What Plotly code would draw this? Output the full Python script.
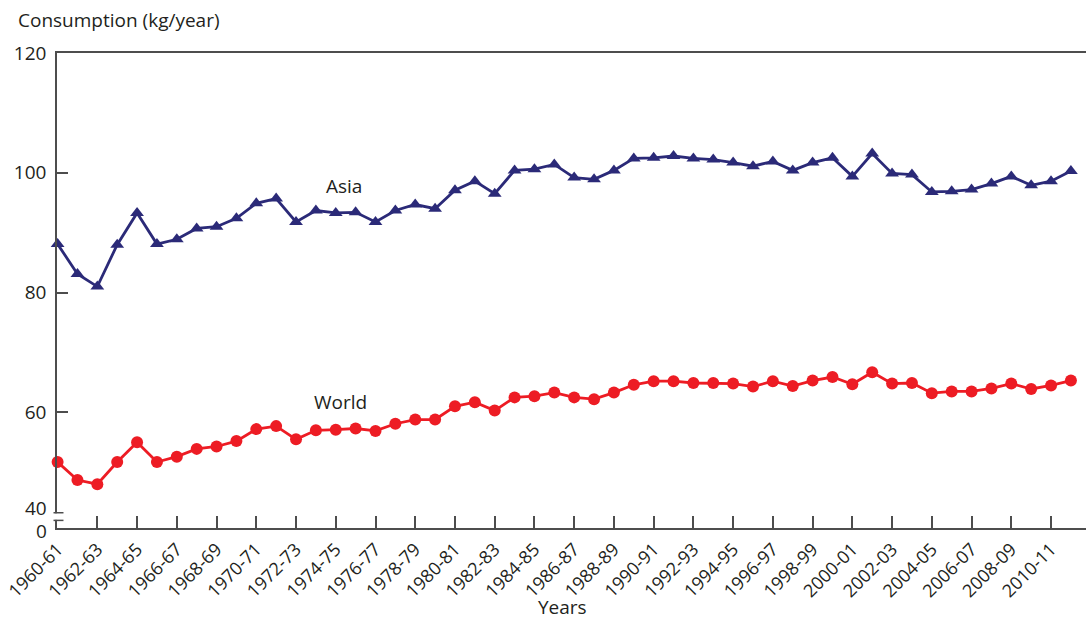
import plotly.graph_objects as go

# ---- data ----
start_years = list(range(1960, 2012))
seasons = [f"{y}-{(y + 1) % 100:02d}" for y in start_years]

asia = [88.1, 83.1, 81.0, 88.0, 93.3, 88.1, 88.9, 90.7, 91.0, 92.4,
        94.9, 95.7, 91.8, 93.7, 93.3, 93.4, 91.8, 93.7, 94.7, 94.0,
        97.1, 98.6, 96.5, 100.4, 100.6, 101.4, 99.2, 98.9, 100.4, 102.4,
        102.5, 102.8, 102.4, 102.2, 101.7, 101.1, 101.9, 100.4, 101.7, 102.5,
        99.4, 103.2, 99.9, 99.7, 96.8, 96.9, 97.2, 98.2, 99.4, 97.9,
        98.6, 100.3]

world = [51.7, 48.7, 48.0, 51.7, 55.0, 51.7, 52.6, 53.9, 54.3, 55.2,
         57.2, 57.7, 55.5, 57.0, 57.1, 57.3, 56.9, 58.1, 58.8, 58.8,
         61.0, 61.7, 60.3, 62.5, 62.7, 63.3, 62.5, 62.2, 63.3, 64.6,
         65.2, 65.2, 64.9, 64.9, 64.8, 64.3, 65.2, 64.4, 65.3, 65.9,
         64.7, 66.7, 64.8, 64.9, 63.2, 63.5, 63.5, 64.0, 64.8, 63.9,
         64.5, 65.3]

x_tick_labels = seasons[::2]
y_tick_vals = [60, 80, 100, 120]

# ---- style ----
FONT = "Open Sans"
TXT = "#231f20"
AX = "#4d4d4d"
NAVY = "#2b2a78"
RED = "#ed1c24"

fig = go.Figure()
fig.add_trace(go.Scatter(
    x=seasons, y=asia, mode="lines+markers", name="Asia",
    line=dict(color=NAVY, width=2.8),
    marker=dict(symbol="triangle-up", size=12, color=NAVY),
    showlegend=False, cliponaxis=False))
fig.add_trace(go.Scatter(
    x=seasons, y=world, mode="lines+markers", name="World",
    line=dict(color=RED, width=2.8),
    marker=dict(symbol="circle", size=12, color=RED),
    showlegend=False, cliponaxis=False))

fig.update_layout(
    width=1086, height=621, autosize=False,
    margin=dict(l=56.5, r=0, t=52.7, b=92.7, pad=0),
    paper_bgcolor="white", plot_bgcolor="white",
    font=dict(family=FONT, size=19, color=TXT),
)

fig.update_xaxes(
    type="category", range=[-0.03, 51.76],
    tickmode="array", tickvals=x_tick_labels, ticktext=x_tick_labels,
    tickangle=-45, ticks="inside", ticklen=12, tickwidth=1.5, tickcolor=AX,
    showline=True, linecolor=AX, linewidth=1.5, mirror=True,
    showgrid=False, zeroline=False,
    tickfont=dict(family=FONT, size=18, color=TXT),
    ticklabelstandoff=2,
)
fig.update_yaxes(
    range=[40.69, 120],
    tickmode="array", tickvals=y_tick_vals,
    ticks="inside", ticklen=11, tickwidth=1.5, tickcolor=AX,
    showline=True, linecolor=AX, linewidth=1.5,
    showgrid=False, zeroline=False,
    tickfont=dict(family=FONT, size=19, color=TXT),
    ticklabelstandoff=5,
)

# axis break marks
fig.add_shape(type="rect", xref="paper", yref="y",
              x0=-0.006, x1=0.006, y0=42.05, y1=43.15,
              fillcolor="white", line=dict(width=0), layer="above")
for yb in (43.24, 41.96):
    fig.add_shape(type="line", xref="paper", yref="y",
                  x0=-0.0034, x1=0.0063, y0=yb, y1=yb,
                  line=dict(color=AX, width=1.5), layer="above")

annos = [
    dict(text="40", xref="paper", yref="paper", x=-0.008, y=0.0425,
         xanchor="right", yanchor="middle"),
    dict(text="0", xref="paper", yref="paper", x=-0.008, y=-0.0065,
         xanchor="right", yanchor="middle"),
    dict(text="Consumption (kg/year)", xref="paper", yref="paper",
         x=-0.0403, y=1.0688, xanchor="left", yanchor="middle"),
    dict(text="Years", xref="paper", yref="paper", x=0.491, y=-0.167,
         xanchor="center", yanchor="middle"),
    dict(text="Asia", xref="x", yref="y", x=14.39, y=97.77,
         xanchor="center", yanchor="middle"),
    dict(text="World", xref="x", yref="y", x=14.24, y=61.75,
         xanchor="center", yanchor="middle"),
]
for a in annos:
    fig.add_annotation(showarrow=False, font=dict(family=FONT, size=19, color=TXT), **a)

fig.write_html("out.html", config={"displayModeBar": False},
               post_script="document.body.style.margin='0';")
